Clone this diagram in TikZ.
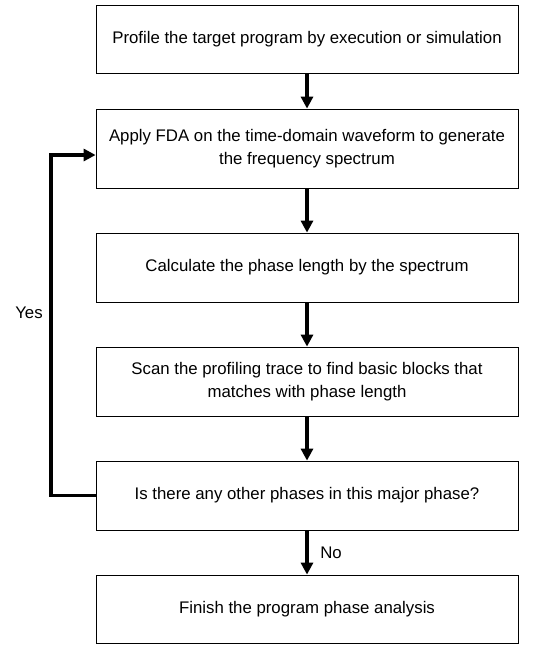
\documentclass[tikz,border=0pt]{standalone}
\usepackage{fontspec}
\setmainfont{Liberation Sans}
\usetikzlibrary{arrows.meta}

\tikzset{
  stepbox/.style={draw, line width=0.8pt, minimum width=422pt, align=center,
    inner sep=0pt, font=\fontsize{16.8}{22.5}\selectfont},
  flow/.style={line width=3.8pt, -{Triangle[width=12pt,length=12pt]}},
  tag/.style={font=\fontsize{16.8}{22.5}\selectfont}
}

\begin{document}
\begin{tikzpicture}[x=1pt, y=-1pt]

\useasboundingbox (0,0) rectangle (551,646);

\node[stepbox, minimum height=68pt] (profile) at (307, 39) {Profile the target program by execution or simulation};
\node[stepbox, minimum height=79pt] (apply) at (307, 148.5) {Apply FDA on the time-domain waveform to generate\\the frequency spectrum};
\node[stepbox, minimum height=69pt] (calc) at (307, 267.5) {Calculate the phase length by the spectrum};
\node[stepbox, minimum height=69pt] (scan) at (307, 381.5) {Scan the profiling trace to find basic blocks that\\matches with phase length};
\node[stepbox, minimum height=69pt] (check) at (307, 495.5) {Is there any other phases in this major phase?};
\node[stepbox, minimum height=68pt] (finish) at (307, 609) {Finish the program phase analysis};

\draw[flow] (profile) -- (apply);
\draw[flow] (apply) -- (calc);
\draw[flow] (calc) -- (scan);
\draw[flow] (scan) -- (check);
\draw[flow] (check) -- (finish);

% back to the spectrum step
\coordinate (loopturn) at (51, 155);
\draw[flow] (check.west) -| (loopturn) -- (loopturn -| apply.west);

\node[tag] (yes) at (29, 313) {Yes};
\node[tag] (no) at (331, 553) {No};

\end{tikzpicture}
\end{document}
